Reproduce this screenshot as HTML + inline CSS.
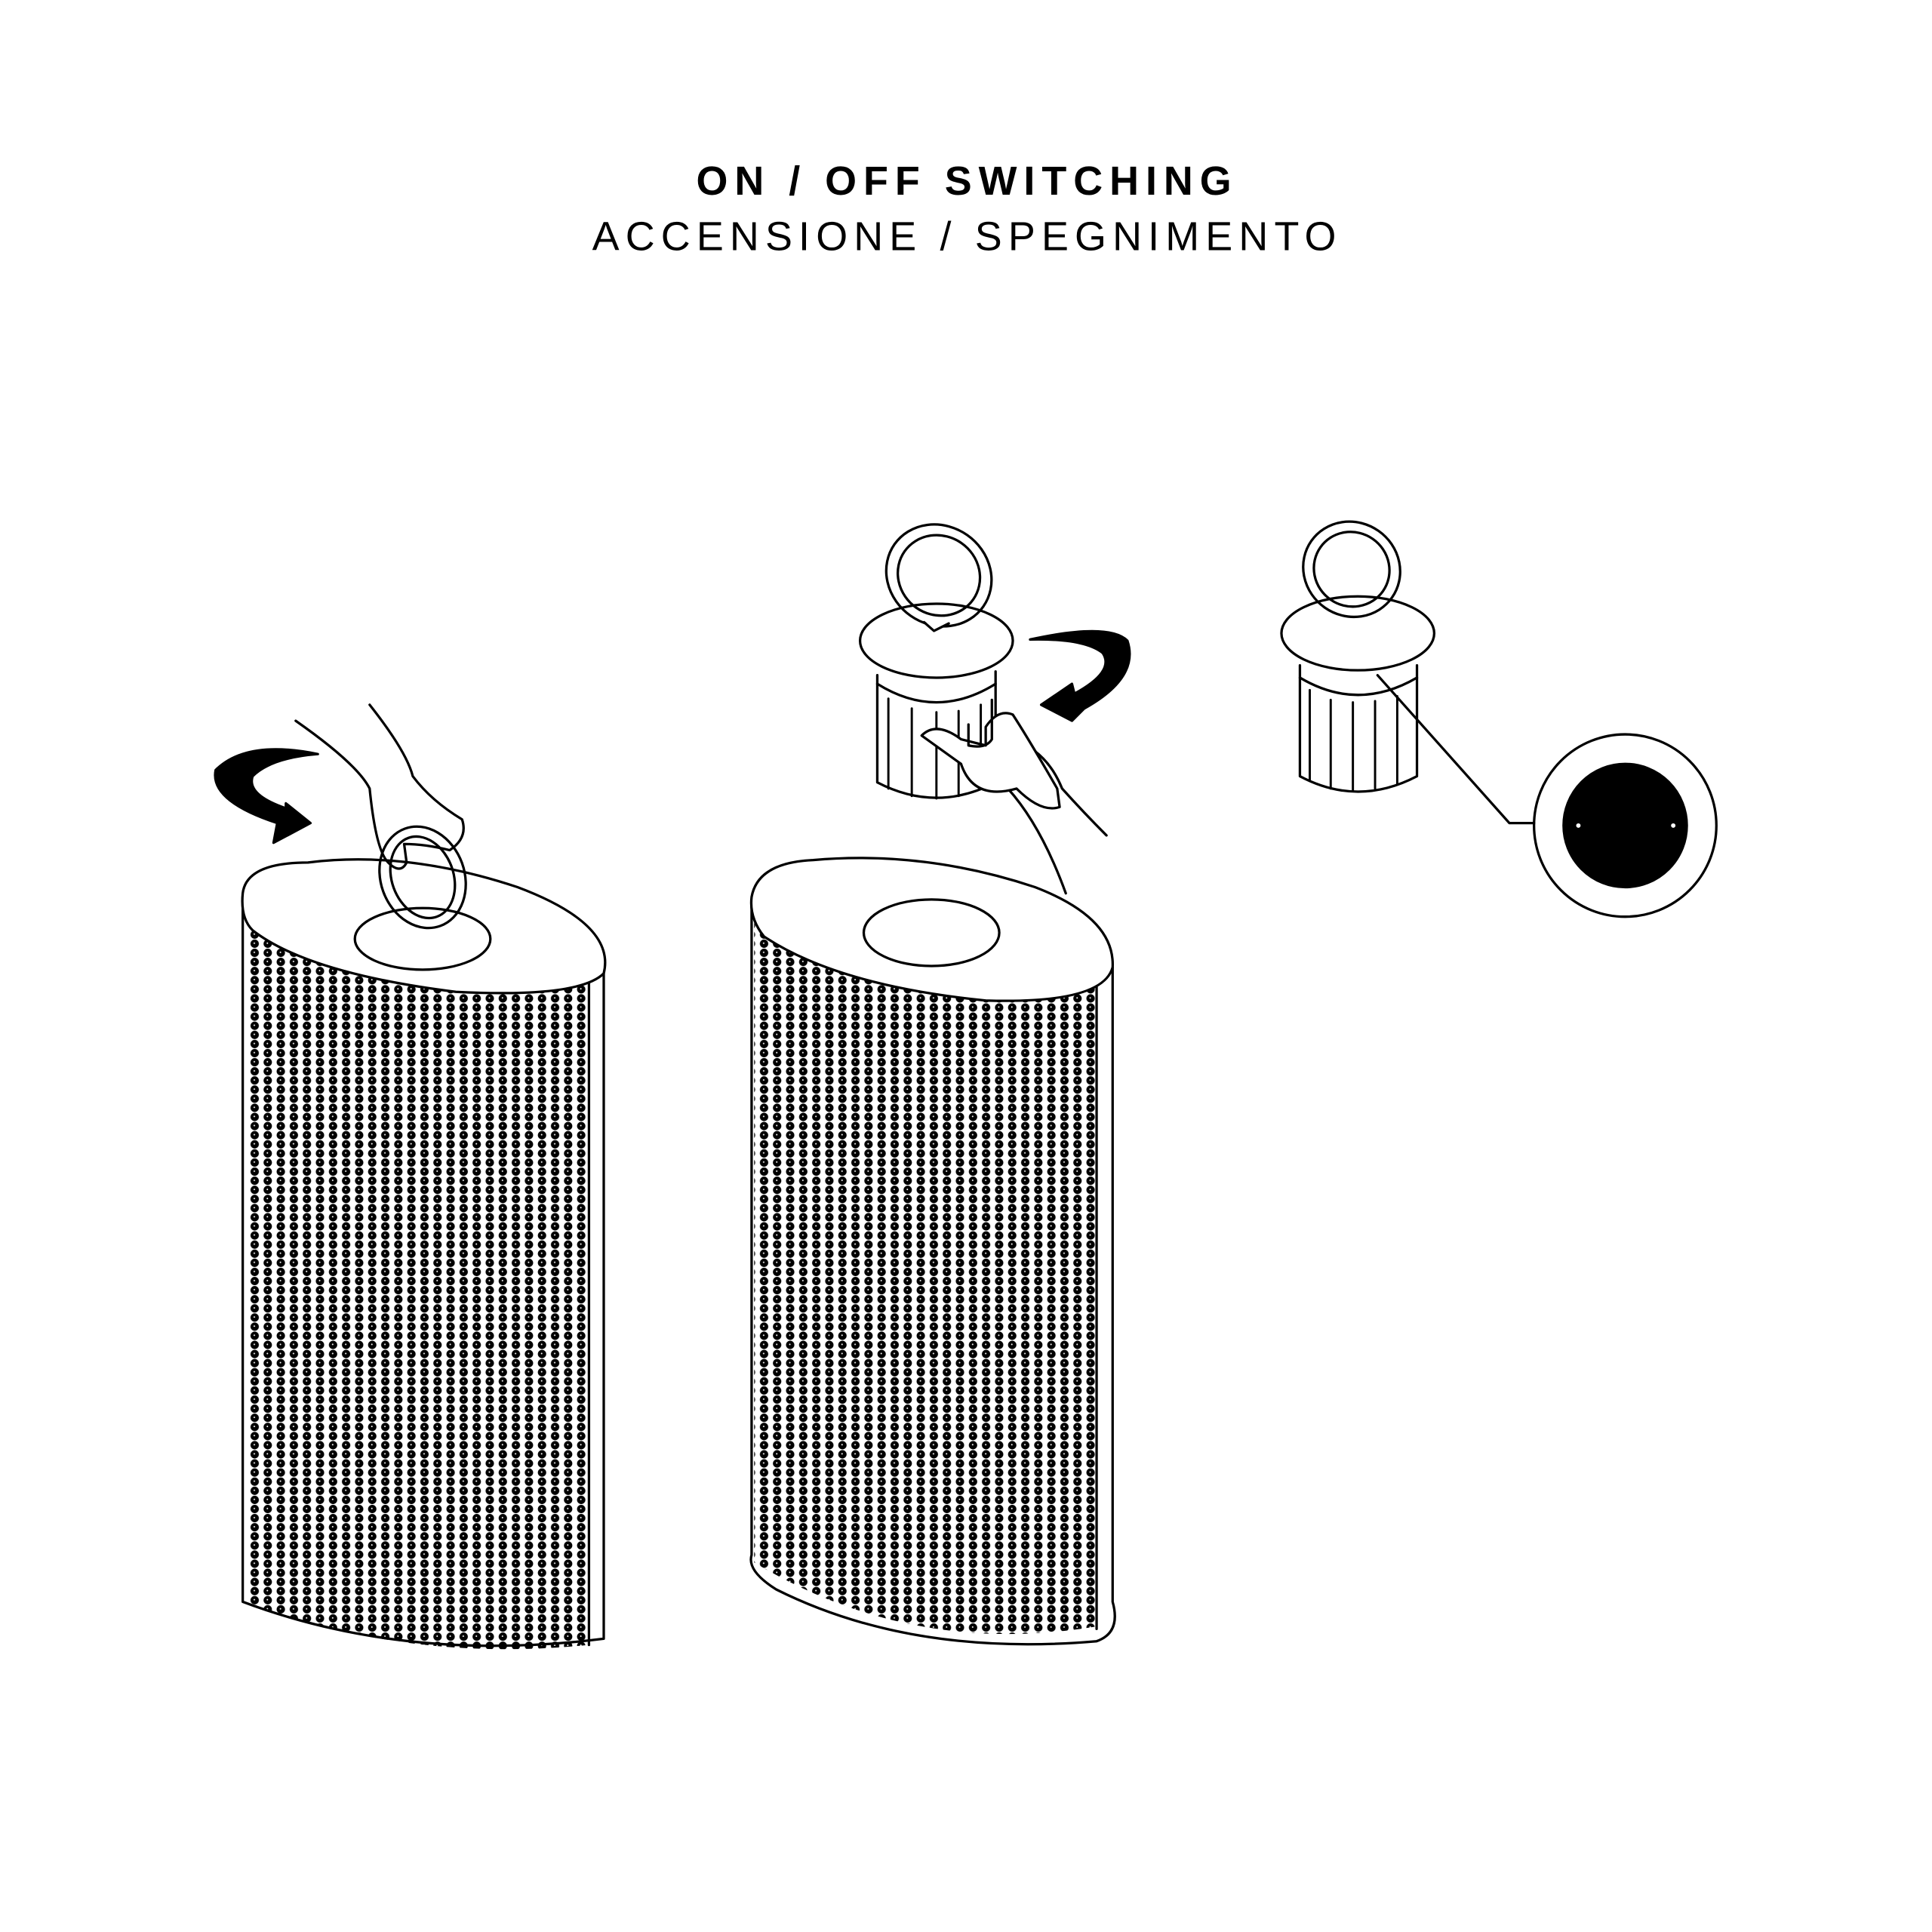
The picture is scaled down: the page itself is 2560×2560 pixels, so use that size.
<!DOCTYPE html>
<html><head><meta charset="utf-8"><style>
html,body{margin:0;padding:0;background:#fff}
svg{display:block}
</style></head><body>
<svg width="2560" height="2560" viewBox="0 0 1568 1568" xmlns="http://www.w3.org/2000/svg">
<defs>
<pattern id="dots" x="0" y="0" width="10.6" height="7.4" patternUnits="userSpaceOnUse">
<circle cx="5.3" cy="3.7" r="3.4" fill="#000"/>
<circle cx="5" cy="3.3" r="0.6" fill="#fff"/>
</pattern>
<clipPath id="c1"><path d="M200 745 L200 1300 Q330 1350 478 1335 L478 790 Q330 820 200 745 Z"/></clipPath>
<clipPath id="c2"><path d="M612 745 L612 1268 Q740 1345 890 1320 L890 790 Q740 820 612 745 Z"/></clipPath>
</defs>
<rect width="1568" height="1568" fill="#fff"/>
<text x="785" y="158" text-anchor="middle" font-family="Liberation Sans, sans-serif" font-weight="bold" font-size="33" letter-spacing="5.5">ON / OFF SWITCHING</text>
<text x="785" y="203" text-anchor="middle" font-family="Liberation Sans, sans-serif" font-size="33" letter-spacing="5">ACCENSIONE / SPEGNIMENTO</text>

<g fill="none" stroke="#000" stroke-width="2" stroke-linejoin="round" stroke-linecap="round">
<!-- left cylinder -->
<rect x="195" y="700" width="300" height="660" fill="url(#dots)" stroke="none" clip-path="url(#c1)"/>
<path d="M197 735 L197 1300 Q330 1350 490 1330 L490 785"/>
<path d="M478 790 L478 1335"/>
<path d="M197 725 Q200 700 250 700 Q330 690 420 720 Q500 750 490 790 Q470 810 370 805 Q250 790 205 755 Q195 745 197 725 Z" fill="#fff"/>
<ellipse cx="343" cy="762" rx="55" ry="25" fill="#fff"/>
<ellipse cx="343" cy="712" rx="34" ry="42" transform="rotate(-20 343 712)" stroke-width="2"/>
<ellipse cx="343" cy="712" rx="25" ry="34" transform="rotate(-20 343 712)"/>
<path d="M240 585 Q290 620 300 640 Q305 690 315 700 Q325 710 330 700 L328 685 Q345 685 365 690 Q380 680 375 665 Q350 650 335 630 Q330 610 300 572"/>
<!-- left arrow -->
<path d="M258 612 Q200 600 175 625 Q170 650 225 668 L222 684 L252 668 L232 652 L232 656 Q200 645 205 630 Q220 615 258 612 Z" fill="#000"/>

<!-- middle cylinder -->
<rect x="605" y="700" width="300" height="660" fill="url(#dots)" stroke="none" clip-path="url(#c2)"/>
<path d="M610 735 L610 1262 Q606 1275 630 1290 Q740 1345 890 1332 Q910 1325 903 1300 L903 785"/>
<path d="M890 790 L890 1322"/>
<path d="M610 728 Q615 700 660 698 Q750 690 840 720 Q905 745 903 785 Q895 815 800 812 Q680 800 620 760 Q608 745 610 728 Z" fill="#fff"/>
<ellipse cx="756" cy="757" rx="55" ry="27"/>
<path d="M818 640 Q845 670 865 725"/>
<path d="M822 600 Q850 610 862 640 Q880 660 898 678"/>

<!-- middle small part -->
<path d="M712 548 L712 635 Q760 660 808 635 L808 545"/>
<path d="M712 555 Q760 585 808 555"/>
<g stroke-width="1.8"><path d="M721 567 V640 M740 575 V646 M760 578 V648 M778 577 V646 M796 572 V640"/></g>
<ellipse cx="760" cy="520" rx="62" ry="30" fill="#fff"/>
<ellipse cx="762" cy="467" rx="44" ry="40" transform="rotate(35 762 467)" fill="none" stroke-width="2"/>
<ellipse cx="762" cy="467" rx="34" ry="32" transform="rotate(35 762 467)"/>
<path d="M750 505 L758 512 L770 506" fill="#fff"/>
<path d="M748 597 Q760 585 780 600 L800 605 L800 590 Q810 575 822 580 Q835 600 858 640 L860 655 Q845 660 825 640 Q790 650 780 620 Z" fill="#fff"/>
<path d="M786 588 L786 605 Q800 608 805 600 L805 568"/>
<!-- middle arrow -->
<path d="M836 519 Q900 505 915 520 Q925 550 880 575 L870 585 L845 572 L870 555 L872 563 Q905 545 895 530 Q880 518 836 519 Z" fill="#000"/>

<!-- right small part -->
<path d="M1055 540 L1055 630 Q1102 655 1150 630 L1150 540"/>
<path d="M1055 550 Q1102 578 1150 550"/>
<g stroke-width="1.8"><path d="M1063 560 V633 M1080 568 V640 M1098 570 V642 M1116 569 V640 M1134 565 V636"/></g>
<ellipse cx="1102" cy="514" rx="62" ry="30" fill="#fff"/>
<ellipse cx="1097" cy="462" rx="40" ry="38" transform="rotate(35 1097 462)"/>
<ellipse cx="1097" cy="462" rx="31" ry="30" transform="rotate(35 1097 462)"/>
<path d="M1118 548 L1225 668 L1245 668"/>
<circle cx="1319" cy="670" r="74"/>
<circle cx="1319" cy="670" r="50" fill="#000"/>
</g>
<circle cx="1281" cy="670" r="1.8" fill="#fff"/>
<circle cx="1358" cy="670" r="1.8" fill="#fff"/>
</svg>
</body></html>
